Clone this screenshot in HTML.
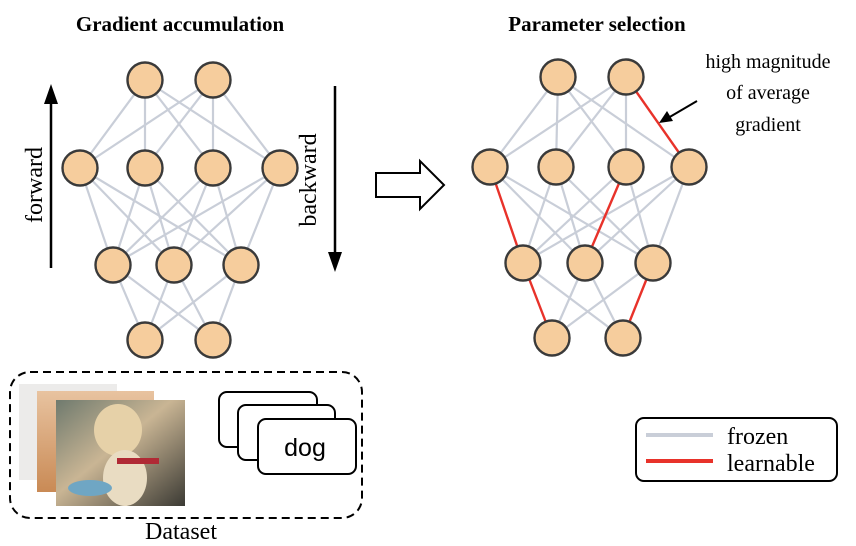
<!DOCTYPE html>
<html><head><meta charset="utf-8"><style>
html,body{margin:0;padding:0;background:#fff;}
svg{display:block;}
</style></head><body>
<svg width="856" height="546" viewBox="0 0 856 546" xmlns="http://www.w3.org/2000/svg">
<defs>
<linearGradient id="g3" x1="0" y1="0" x2="1" y2="1">
<stop offset="0" stop-color="#6f7a6e"/><stop offset="0.45" stop-color="#c9b594"/><stop offset="1" stop-color="#3b3a34"/>
</linearGradient>
<linearGradient id="g2" x1="0" y1="0" x2="0" y2="1">
<stop offset="0" stop-color="#e8c3a0"/><stop offset="1" stop-color="#c98a55"/>
</linearGradient>
</defs>
<g font-family="Liberation Serif, serif" font-weight="bold" font-size="21" text-anchor="middle" fill="#000">
<text x="180" y="31">Gradient accumulation</text>
<text x="597" y="31">Parameter selection</text>
</g>
<g stroke="#c9ced8" stroke-width="2.2">
<line x1="145" y1="80" x2="80" y2="168"/><line x1="145" y1="80" x2="145" y2="168"/><line x1="145" y1="80" x2="213" y2="168"/><line x1="145" y1="80" x2="280" y2="168"/>
<line x1="213" y1="80" x2="80" y2="168"/><line x1="213" y1="80" x2="145" y2="168"/><line x1="213" y1="80" x2="213" y2="168"/><line x1="213" y1="80" x2="280" y2="168"/>
<line x1="80" y1="168" x2="113" y2="265"/><line x1="80" y1="168" x2="174" y2="265"/><line x1="80" y1="168" x2="241" y2="265"/>
<line x1="145" y1="168" x2="113" y2="265"/><line x1="145" y1="168" x2="174" y2="265"/><line x1="145" y1="168" x2="241" y2="265"/>
<line x1="213" y1="168" x2="113" y2="265"/><line x1="213" y1="168" x2="174" y2="265"/><line x1="213" y1="168" x2="241" y2="265"/>
<line x1="280" y1="168" x2="113" y2="265"/><line x1="280" y1="168" x2="174" y2="265"/><line x1="280" y1="168" x2="241" y2="265"/>
<line x1="113" y1="265" x2="145" y2="340"/><line x1="113" y1="265" x2="213" y2="340"/>
<line x1="174" y1="265" x2="145" y2="340"/><line x1="174" y1="265" x2="213" y2="340"/>
<line x1="241" y1="265" x2="145" y2="340"/><line x1="241" y1="265" x2="213" y2="340"/>
</g>
<g stroke="#c9ced8" stroke-width="2.2">
<line x1="558" y1="77" x2="490" y2="167"/><line x1="558" y1="77" x2="556" y2="167"/><line x1="558" y1="77" x2="626" y2="167"/><line x1="558" y1="77" x2="689" y2="167"/>
<line x1="626" y1="77" x2="490" y2="167"/><line x1="626" y1="77" x2="556" y2="167"/><line x1="626" y1="77" x2="626" y2="167"/>
<line x1="490" y1="167" x2="585" y2="263"/><line x1="490" y1="167" x2="653" y2="263"/>
<line x1="556" y1="167" x2="523" y2="263"/><line x1="556" y1="167" x2="585" y2="263"/><line x1="556" y1="167" x2="653" y2="263"/>
<line x1="626" y1="167" x2="523" y2="263"/><line x1="626" y1="167" x2="653" y2="263"/>
<line x1="689" y1="167" x2="523" y2="263"/><line x1="689" y1="167" x2="585" y2="263"/><line x1="689" y1="167" x2="653" y2="263"/>
<line x1="523" y1="263" x2="623" y2="338"/>
<line x1="585" y1="263" x2="552" y2="338"/><line x1="585" y1="263" x2="623" y2="338"/>
<line x1="653" y1="263" x2="552" y2="338"/>
</g>
<g stroke="#e8322a" stroke-width="2.4">
<line x1="626" y1="77" x2="689" y2="167"/>
<line x1="490" y1="167" x2="523" y2="263"/>
<line x1="626" y1="167" x2="585" y2="263"/>
<line x1="523" y1="263" x2="552" y2="338"/>
<line x1="653" y1="263" x2="623" y2="338"/>
</g>
<g fill="#f6cd9d" stroke="#3a3a3a" stroke-width="2.4">
<circle cx="145" cy="80" r="17.5"/><circle cx="213" cy="80" r="17.5"/>
<circle cx="80" cy="168" r="17.5"/><circle cx="145" cy="168" r="17.5"/><circle cx="213" cy="168" r="17.5"/><circle cx="280" cy="168" r="17.5"/>
<circle cx="113" cy="265" r="17.5"/><circle cx="174" cy="265" r="17.5"/><circle cx="241" cy="265" r="17.5"/>
<circle cx="145" cy="340" r="17.5"/><circle cx="213" cy="340" r="17.5"/>
<circle cx="558" cy="77" r="17.5"/><circle cx="626" cy="77" r="17.5"/>
<circle cx="490" cy="167" r="17.5"/><circle cx="556" cy="167" r="17.5"/><circle cx="626" cy="167" r="17.5"/><circle cx="689" cy="167" r="17.5"/>
<circle cx="523" cy="263" r="17.5"/><circle cx="585" cy="263" r="17.5"/><circle cx="653" cy="263" r="17.5"/>
<circle cx="552" cy="338" r="17.5"/><circle cx="623" cy="338" r="17.5"/>
</g>
<line x1="51" y1="268" x2="51" y2="100" stroke="#000" stroke-width="2.5"/>
<polygon points="51,84 44,104 58,104" fill="#000"/>
<line x1="335" y1="86" x2="335" y2="255" stroke="#000" stroke-width="2.5"/>
<polygon points="335,272 328,252 342,252" fill="#000"/>
<text transform="translate(42,185) rotate(-90)" font-family="Liberation Serif, serif" font-size="24" text-anchor="middle">forward</text>
<text transform="translate(316,180) rotate(-90)" font-family="Liberation Serif, serif" font-size="24" text-anchor="middle">backward</text>
<polygon points="376,173 420,173 420,161 444,185 420,209 420,197 376,197" fill="#fff" stroke="#000" stroke-width="2"/>
<g font-family="Liberation Serif, serif" font-size="20" text-anchor="middle">
<text x="768" y="68">high magnitude</text>
<text x="768" y="99">of average</text>
<text x="768" y="131">gradient</text>
</g>
<line x1="697" y1="101" x2="668" y2="118" stroke="#000" stroke-width="2"/>
<polygon points="659,123 667,111 673,121" fill="#000"/>
<rect x="636" y="418" width="201" height="63" rx="8" fill="#fff" stroke="#000" stroke-width="2"/>
<line x1="646" y1="435" x2="713" y2="435" stroke="#c9ced8" stroke-width="4"/>
<line x1="646" y1="461" x2="713" y2="461" stroke="#e8322a" stroke-width="4"/>
<g font-family="Liberation Serif, serif" font-size="24">
<text x="727" y="444">frozen</text>
<text x="727" y="471">learnable</text>
</g>
<rect x="10" y="372" width="352" height="146" rx="20" fill="none" stroke="#000" stroke-width="2" stroke-dasharray="8,5"/>
<rect x="19" y="384" width="98" height="96" fill="#ecebea"/>
<rect x="37" y="391" width="117" height="101" fill="url(#g2)"/>
<rect x="56" y="400" width="129" height="106" fill="url(#g3)"/>
<ellipse cx="118" cy="430" rx="24" ry="26" fill="#e6d1a8"/>
<ellipse cx="125" cy="478" rx="22" ry="28" fill="#e9dcc2"/>
<rect x="117" y="458" width="42" height="6" fill="#b02a35"/>
<ellipse cx="90" cy="488" rx="22" ry="8" fill="#6fa6c4"/>
<g fill="#fff" stroke="#000" stroke-width="2">
<rect x="219" y="392" width="98" height="55" rx="8"/>
<rect x="238" y="405" width="97" height="55" rx="8"/>
<rect x="258" y="419" width="98" height="55" rx="8"/>
</g>
<text x="305" y="456" font-family="Liberation Sans, sans-serif" font-size="25" text-anchor="middle">dog</text>
<text x="181" y="539" font-family="Liberation Serif, serif" font-size="24" text-anchor="middle">Dataset</text>
</svg>
</body></html>
